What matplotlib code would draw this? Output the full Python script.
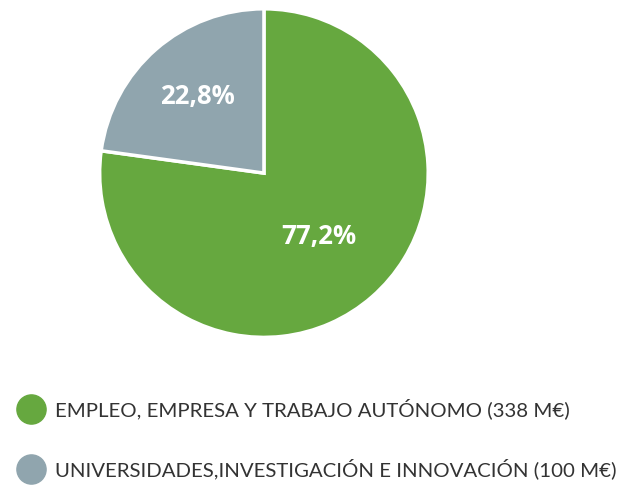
import numpy as np
import matplotlib.pyplot as plt
from matplotlib.lines import Line2D

# data
labels = ['EMPLEO, EMPRESA Y TRABAJO AUTÓNOMO (338 M€)',
          'UNIVERSIDADES,INVESTIGACIÓN E INNOVACIÓN (100 M€)']
values = [338, 100]
pct_labels = ['77,2%', '22,8%']
colors = ['#66a83f', '#90a5ae']
label_dist = [0.51, 0.62]

plt.rcParams['font.family'] = ['Lato', 'DejaVu Sans']

fig = plt.figure(figsize=(6.25, 4.88), dpi=100)
ax = fig.add_axes([0.1568, 0.3053, 0.531, 0.680])
wedges, _ = ax.pie(values, colors=colors, startangle=90, counterclock=False,
                   wedgeprops=dict(edgecolor='white', linewidth=2.5))
for w, txt, d in zip(wedges, pct_labels, label_dist):
    ang = np.deg2rad((w.theta1 + w.theta2) / 2)
    ax.text(d * np.cos(ang), d * np.sin(ang), txt, color='white',
            fontsize=18.5, fontweight='bold', family='Open Sans',
            ha='center', va='center')
ax.set_xlim(-1.01, 1.01)
ax.set_ylim(-1.01, 1.01)
ax.set_aspect('equal')

handles = [Line2D([], [], marker='o', linestyle='none', markersize=21,
                  markerfacecolor=c, markeredgecolor=c) for c in colors]
fig.legend(handles, labels, loc='upper left', bbox_to_anchor=(0.02, 0.2),
           frameon=False, fontsize=14.7, labelcolor='#333333',
           handlelength=1.02, handletextpad=0.66, labelspacing=1.9,
           borderaxespad=0)

fig.savefig('out.png', dpi=100)
